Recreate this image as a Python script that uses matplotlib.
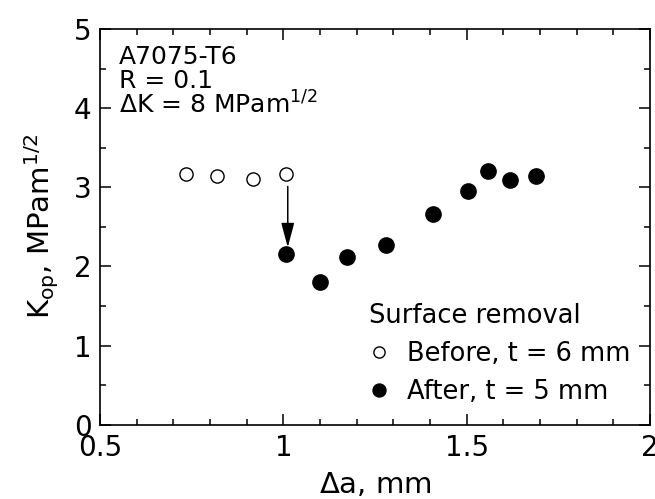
import matplotlib
matplotlib.use("Agg")
import matplotlib.pyplot as plt
from matplotlib.ticker import MultipleLocator

plt.rcParams['font.family'] = ['DejaVu Sans']
plt.rcParams['mathtext.default'] = 'regular'

# crack length (mm) and opening stress intensity (MPa m^1/2)
before_da = [0.735, 0.818, 0.917, 1.006]
before_kop = [3.17, 3.14, 3.11, 3.17]
after_da = [1.006, 1.100, 1.174, 1.280, 1.408, 1.504, 1.557, 1.618, 1.690]
after_kop = [2.15, 1.80, 2.12, 2.27, 2.66, 2.95, 3.20, 3.09, 3.14]

arrow_x = 1.012
arrow_from = 3.01
arrow_to = 2.24

fig = plt.figure(figsize=(6.55, 4.99), dpi=100)
ax = fig.add_axes([0.1527, 0.149, 0.8397, 0.793])

ax.plot(before_da, before_kop, 'o', mfc='white', mec='black', mew=1.0, ms=9.5,
        label='Before, t = 6 mm')
ax.plot(after_da, after_kop, 'o', mfc='black', mec='black', ms=11,
        label='After, t = 5 mm')

ax.annotate('', xy=(arrow_x, arrow_to), xytext=(arrow_x, arrow_from),
            arrowprops=dict(arrowstyle='-|>,head_length=1.5,head_width=0.4',
                            mutation_scale=10, lw=1.1, color='black',
                            shrinkA=0, shrinkB=0))

ax.set_xlim(0.5, 2)
ax.set_ylim(0, 5)
ax.xaxis.set_minor_locator(MultipleLocator(0.1))
ax.yaxis.set_major_locator(MultipleLocator(1))
ax.yaxis.set_minor_locator(MultipleLocator(0.5))
ax.set_xticks([0.5, 1, 1.5, 2])
ax.set_xticklabels(['0.5', '1', '1.5', '2'])

ax.tick_params(which='both', direction='in', top=True, right=True, width=1.1,
               labelsize=20)
ax.tick_params(which='major', length=8)
ax.tick_params(which='minor', length=4)
ax.tick_params(axis='x', pad=7)
ax.tick_params(axis='y', pad=6)
for s in ax.spines.values():
    s.set_linewidth(1.2)

ax.set_xlabel('$\\Delta$a, mm', fontsize=21, labelpad=6.5)
ax.set_ylabel('K$_{op}$, MPam$^{1/2}$', fontsize=21, labelpad=9)

ax.text(0.035, 0.912, 'A7075-T6', transform=ax.transAxes, fontsize=18)
ax.text(0.035, 0.850, 'R = 0.1', transform=ax.transAxes, fontsize=18)
ax.text(0.035, 0.786, '$\\Delta$K = 8 MPam$^{1/2}$', transform=ax.transAxes,
        fontsize=18)

leg = ax.legend(loc='lower right', bbox_to_anchor=(1.0, 0.0), frameon=False,
                title='Surface removal', title_fontsize=18.5, fontsize=18.5,
                markerscale=0.85, handlelength=0.8, handletextpad=0.7,
                labelspacing=0.47, borderaxespad=0.35, alignment='left')

fig.savefig('out.png', dpi=100)
